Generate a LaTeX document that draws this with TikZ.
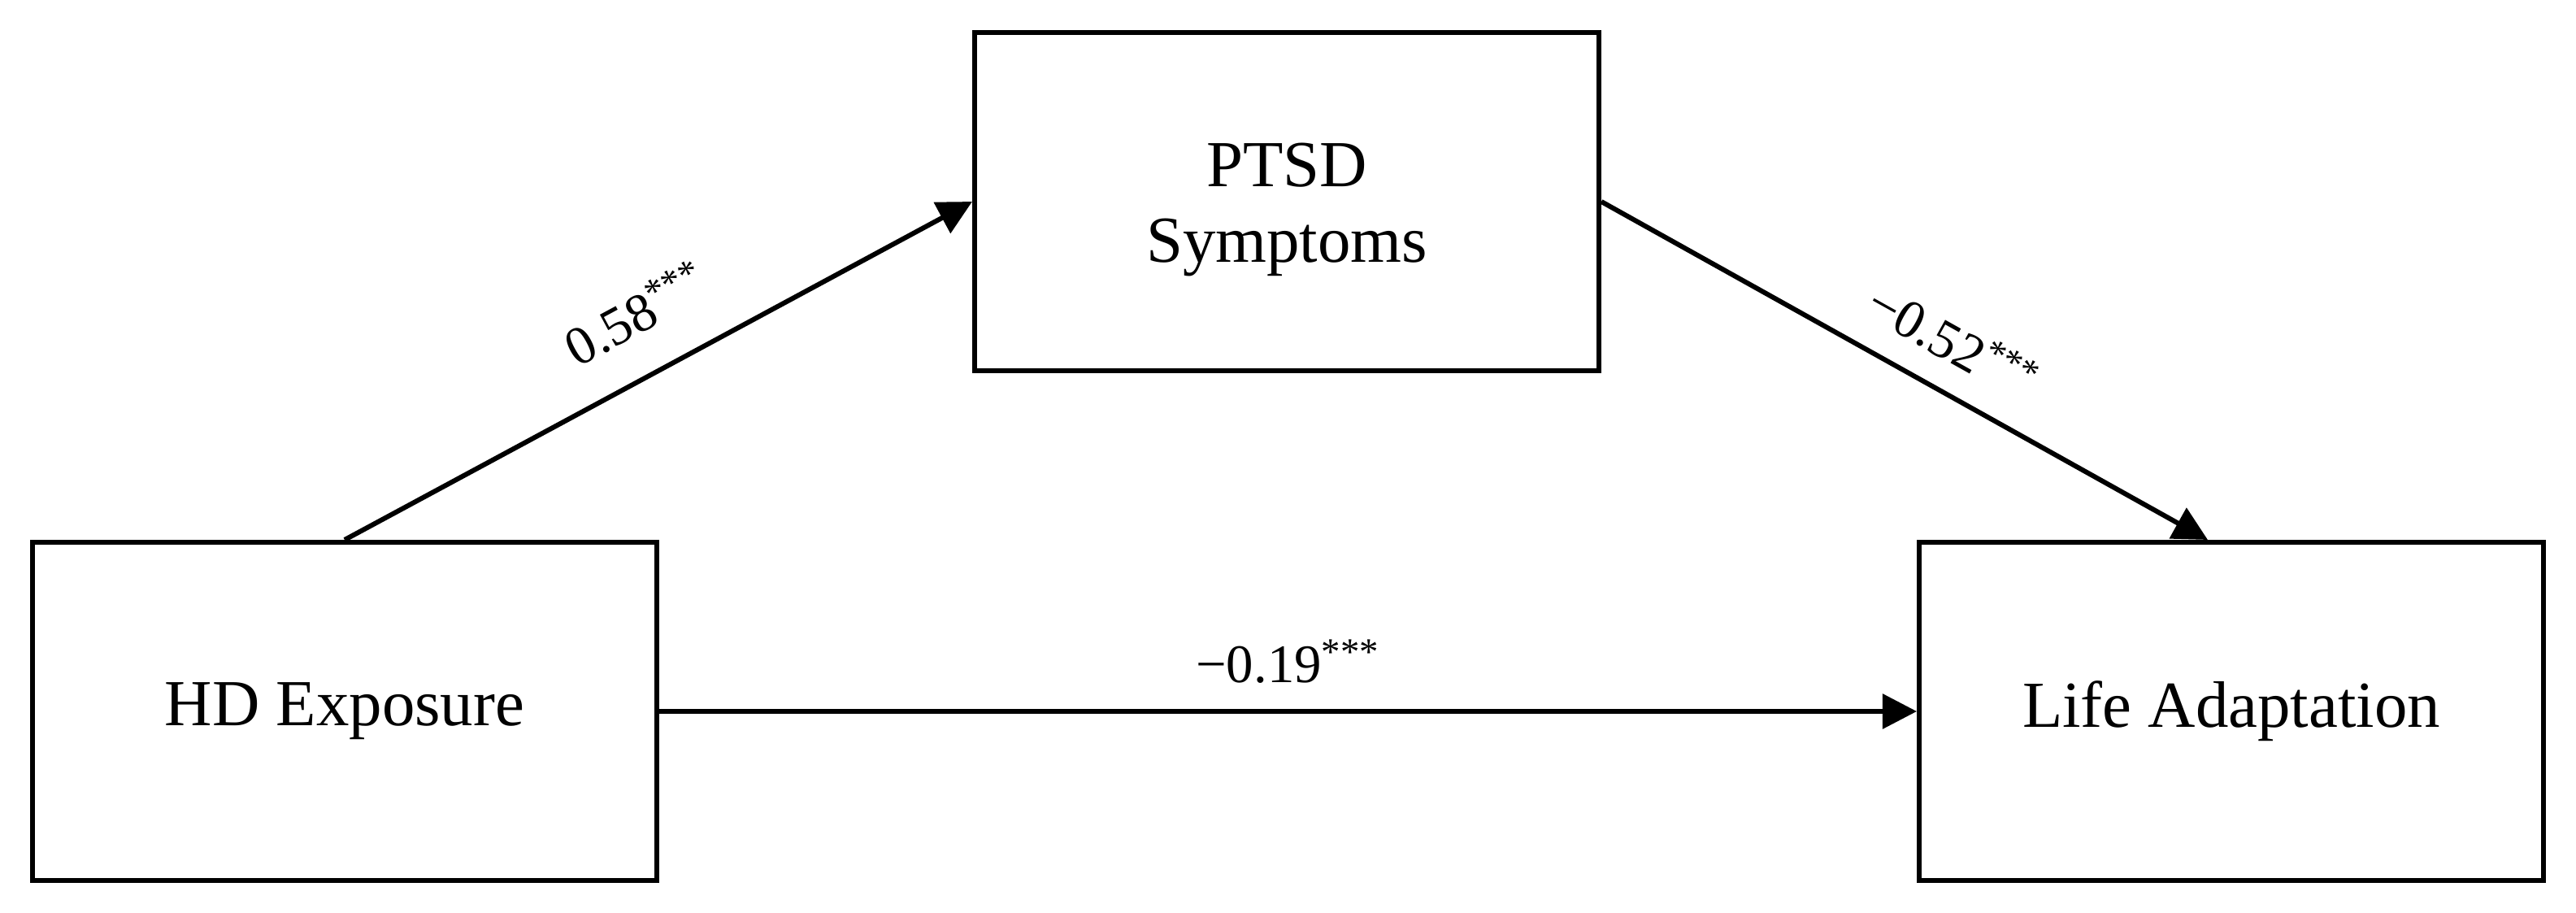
\documentclass[tikz,border=0pt]{standalone}
\usepackage{fontspec}
\setmainfont{Liberation Serif}
\usetikzlibrary{arrows.meta}

\begin{document}
\begin{tikzpicture}[
    varbox/.style = {shape=rectangle, draw, fill = white, line width=1.7pt, minimum width=7.68cm, minimum height=4.16cm, align=center, font=\fontsize{23}{26.5}\selectfont},
    coef/.style = {font=\fontsize{19}{23}\selectfont, midway, above=0.2cm},
    link/.style = {-{Triangle[length=12pt,width=12pt]}, line width=1.7pt}
]
\useasboundingbox (0,0) rectangle (31.69,11.23);

\node[varbox] (E) at (4.24,2.48) {HD Exposure};
\node[varbox] (P) at (15.83,8.75) {\raisebox{-0.1cm}[\height][\depth]{\parbox{6cm}{\centering PTSD\\Symptoms}}};
\node[varbox] (A) at (27.45,2.48) {Life Adaptation};

\draw[link] (E.north) -- (P.west) node[coef, sloped, pos=0.51, above=0.15cm] {0.58\textsuperscript{***}};
\draw[link] (P.east) -- ([xshift=-0.29cm]A.north) node[coef, sloped, pos=0.54] {−0.52\textsuperscript{***}};
\draw[link] (E.east) -- (A.west) node[coef] {−0.19\textsuperscript{***}};
\end{tikzpicture}
\end{document}
